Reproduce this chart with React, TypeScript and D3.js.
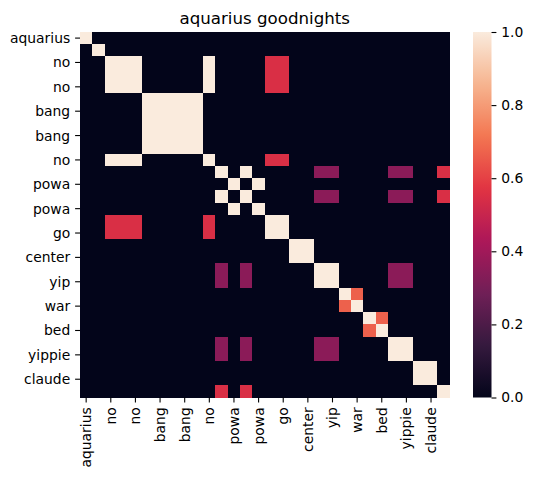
import React, { useRef, useEffect } from "react";
import * as d3 from "d3";

// labels shown on every other row/column (seaborn auto thinning)
const tickLabels = [
  "aquarius", "no", "no", "bang", "bang", "no", "powa", "powa",
  "go", "center", "yip", "war", "bed", "yippie", "claude",
];

// 30 x 30 similarity matrix
const matrix: number[][] = [
  [1,0,0,0,0,0,0,0,0,0,0,0,0,0,0,0,0,0,0,0,0,0,0,0,0,0,0,0,0,0],
  [0,1,0,0,0,0,0,0,0,0,0,0,0,0,0,0,0,0,0,0,0,0,0,0,0,0,0,0,0,0],
  [0,0,1,1,1,0,0,0,0,0,1,0,0,0,0,0.55,0.55,0,0,0,0,0,0,0,0,0,0,0,0,0],
  [0,0,1,1,1,0,0,0,0,0,1,0,0,0,0,0.55,0.55,0,0,0,0,0,0,0,0,0,0,0,0,0],
  [0,0,1,1,1,0,0,0,0,0,1,0,0,0,0,0.55,0.55,0,0,0,0,0,0,0,0,0,0,0,0,0],
  [0,0,0,0,0,1,1,1,1,1,0,0,0,0,0,0,0,0,0,0,0,0,0,0,0,0,0,0,0,0],
  [0,0,0,0,0,1,1,1,1,1,0,0,0,0,0,0,0,0,0,0,0,0,0,0,0,0,0,0,0,0],
  [0,0,0,0,0,1,1,1,1,1,0,0,0,0,0,0,0,0,0,0,0,0,0,0,0,0,0,0,0,0],
  [0,0,0,0,0,1,1,1,1,1,0,0,0,0,0,0,0,0,0,0,0,0,0,0,0,0,0,0,0,0],
  [0,0,0,0,0,1,1,1,1,1,0,0,0,0,0,0,0,0,0,0,0,0,0,0,0,0,0,0,0,0],
  [0,0,1,1,1,0,0,0,0,0,1,0,0,0,0,0.55,0.55,0,0,0,0,0,0,0,0,0,0,0,0,0],
  [0,0,0,0,0,0,0,0,0,0,0,1,0,1,0,0,0,0,0,0.35,0.35,0,0,0,0,0.35,0.35,0,0,0.55],
  [0,0,0,0,0,0,0,0,0,0,0,0,1,0,1,0,0,0,0,0,0,0,0,0,0,0,0,0,0,0],
  [0,0,0,0,0,0,0,0,0,0,0,1,0,1,0,0,0,0,0,0.35,0.35,0,0,0,0,0.35,0.35,0,0,0.55],
  [0,0,0,0,0,0,0,0,0,0,0,0,1,0,1,0,0,0,0,0,0,0,0,0,0,0,0,0,0,0],
  [0,0,0.55,0.55,0.55,0,0,0,0,0,0.55,0,0,0,0,1,1,0,0,0,0,0,0,0,0,0,0,0,0,0],
  [0,0,0.55,0.55,0.55,0,0,0,0,0,0.55,0,0,0,0,1,1,0,0,0,0,0,0,0,0,0,0,0,0,0],
  [0,0,0,0,0,0,0,0,0,0,0,0,0,0,0,0,0,1,1,0,0,0,0,0,0,0,0,0,0,0],
  [0,0,0,0,0,0,0,0,0,0,0,0,0,0,0,0,0,1,1,0,0,0,0,0,0,0,0,0,0,0],
  [0,0,0,0,0,0,0,0,0,0,0,0.35,0,0.35,0,0,0,0,0,1,1,0,0,0,0,0.35,0.35,0,0,0],
  [0,0,0,0,0,0,0,0,0,0,0,0.35,0,0.35,0,0,0,0,0,1,1,0,0,0,0,0.35,0.35,0,0,0],
  [0,0,0,0,0,0,0,0,0,0,0,0,0,0,0,0,0,0,0,0,0,1,0.67,0,0,0,0,0,0,0],
  [0,0,0,0,0,0,0,0,0,0,0,0,0,0,0,0,0,0,0,0,0,0.67,1,0,0,0,0,0,0,0],
  [0,0,0,0,0,0,0,0,0,0,0,0,0,0,0,0,0,0,0,0,0,0,0,1,0.67,0,0,0,0,0],
  [0,0,0,0,0,0,0,0,0,0,0,0,0,0,0,0,0,0,0,0,0,0,0,0.67,1,0,0,0,0,0],
  [0,0,0,0,0,0,0,0,0,0,0,0.35,0,0.35,0,0,0,0,0,0.35,0.35,0,0,0,0,1,1,0,0,0],
  [0,0,0,0,0,0,0,0,0,0,0,0.35,0,0.35,0,0,0,0,0,0.35,0.35,0,0,0,0,1,1,0,0,0],
  [0,0,0,0,0,0,0,0,0,0,0,0,0,0,0,0,0,0,0,0,0,0,0,0,0,0,0,1,1,0],
  [0,0,0,0,0,0,0,0,0,0,0,0,0,0,0,0,0,0,0,0,0,0,0,0,0,0,0,1,1,0],
  [0,0,0,0,0,0,0,0,0,0,0,0.55,0,0.55,0,0,0,0,0,0,0,0,0,0,0,0,0,0,0,1],
];

const colorbarTicks = [0, 0.2, 0.4, 0.6, 0.8, 1.0];

// seaborn "rocket" colormap stops
const rocketStops = [0, 0.143, 0.286, 0.429, 0.571, 0.714, 0.857, 1];
const rocketColors = [
  "#03051a", "#35193e", "#701f57", "#ad1759",
  "#e13342", "#f37651", "#f6b48f", "#faebdd",
];

export default function App() {
  const ref = useRef<HTMLDivElement>(null);

  useEffect(() => {
    if (!ref.current) return;
    document.body.style.margin = "0";
    ref.current.innerHTML = "";

    const width = 533;
    const height = 482;
    const left = 80, right = 449.5, top = 32, bottom = 397.5;
    const font = "DejaVu Sans, sans-serif";
    const tickLen = 4.9;

    const svg = d3.select(ref.current)
      .append("svg")
      .attr("width", width)
      .attr("height", height)
      .style("display", "block")
      .style("background", "#fff");

    const n = matrix.length;
    const idx = d3.range(n);
    const x = d3.scaleBand<number>().domain(idx).range([left, right]).padding(0);
    const y = d3.scaleBand<number>().domain(idx).range([top, bottom]).padding(0);

    const color = d3.scaleLinear<string>()
      .domain(rocketStops)
      .range(rocketColors)
      .interpolate(d3.interpolateRgb)
      .clamp(true);

    const cells = matrix.flatMap((row, r) => row.map((v, c) => ({ r, c, v })));

    svg.append("g")
      .selectAll("rect")
      .data(cells)
      .enter()
      .append("rect")
      .attr("x", d => x(d.c)!)
      .attr("y", d => y(d.r)!)
      .attr("width", x.bandwidth() + 0.3)
      .attr("height", y.bandwidth() + 0.3)
      .attr("fill", d => color(d.v))
      .attr("shape-rendering", "crispEdges");

    // title
    svg.append("text")
      .attr("x", (left + right) / 2)
      .attr("y", top - 8.5)
      .attr("text-anchor", "middle")
      .style("font-family", font)
      .style("font-size", "16.67px")
      .attr("fill", "#000")
      .text("aquarius goodnights");

    // y ticks
    tickLabels.forEach((label, i) => {
      const k = i * 2;
      const cy = y(k)! + y.bandwidth() / 2;
      svg.append("line")
        .attr("x1", left - tickLen).attr("x2", left)
        .attr("y1", cy).attr("y2", cy)
        .attr("stroke", "#000").attr("stroke-width", 1.1);
      svg.append("text")
        .attr("x", left - tickLen - 4.9)
        .attr("y", cy)
        .attr("text-anchor", "end")
        .attr("dominant-baseline", "central")
        .style("font-family", font)
        .style("font-size", "13.89px")
        .attr("fill", "#000")
        .text(label);
    });

    // x ticks, rotated labels
    tickLabels.forEach((label, i) => {
      const k = i * 2;
      const cx = x(k)! + x.bandwidth() / 2;
      svg.append("line")
        .attr("x1", cx).attr("x2", cx)
        .attr("y1", bottom).attr("y2", bottom + tickLen)
        .attr("stroke", "#000").attr("stroke-width", 1.1);
      svg.append("text")
        .attr("transform", `translate(${cx},${bottom + tickLen + 4.9}) rotate(-90)`)
        .attr("text-anchor", "end")
        .attr("dominant-baseline", "central")
        .style("font-family", font)
        .style("font-size", "13.89px")
        .attr("fill", "#000")
        .text(label);
    });

    // colorbar
    const cbLeft = 473, cbRight = 491.5;
    const cbScale = d3.scaleLinear().domain([0, 1]).range([bottom, top]);

    const grad = svg.append("defs")
      .append("linearGradient")
      .attr("id", "rocket-grad")
      .attr("x1", "0").attr("y1", "1")
      .attr("x2", "0").attr("y2", "0");
    d3.range(0, 1.0001, 0.02).forEach(t => {
      grad.append("stop")
        .attr("offset", `${t * 100}%`)
        .attr("stop-color", color(t));
    });

    svg.append("rect")
      .attr("x", cbLeft)
      .attr("y", top)
      .attr("width", cbRight - cbLeft)
      .attr("height", bottom - top)
      .attr("fill", "url(#rocket-grad)");

    const cbAxis = d3.axisRight(cbScale)
      .tickValues(colorbarTicks)
      .tickFormat(d3.format(".1f"))
      .tickSize(tickLen)
      .tickPadding(4.9);

    const axisG = svg.append("g")
      .attr("transform", `translate(${cbRight},0)`)
      .call(cbAxis);
    axisG.select(".domain").remove();
    axisG.selectAll("line").attr("stroke", "#000").attr("stroke-width", 1.1);
    axisG.selectAll("text")
      .style("font-family", font)
      .style("font-size", "13.89px")
      .attr("fill", "#000");
  }, []);

  return <div ref={ref} />;
}
